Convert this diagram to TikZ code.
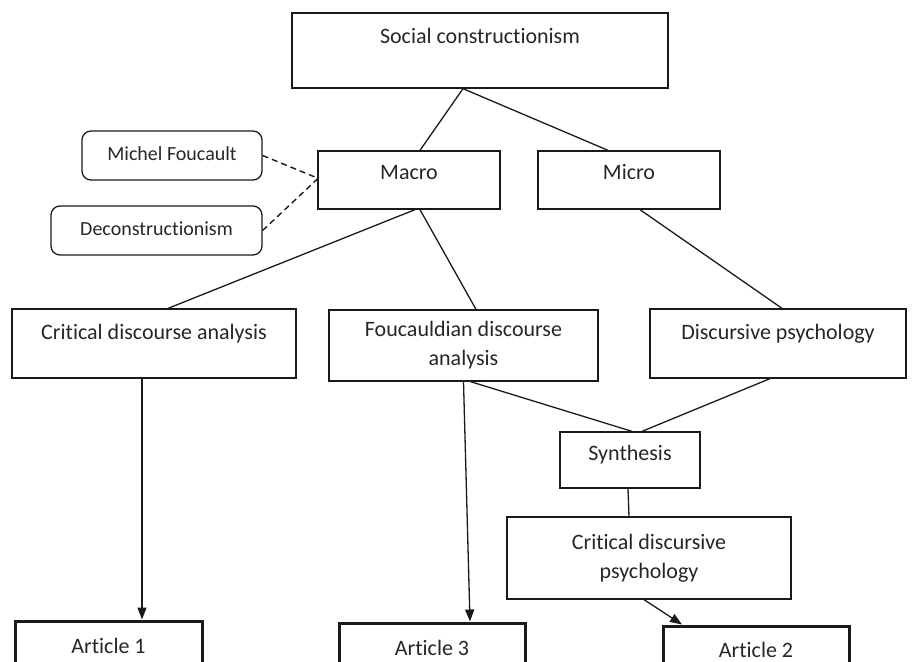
\documentclass[tikz,border=0pt]{standalone}
\usepackage{fontspec}
\setmainfont{Carlito}[Ligatures={NoCommon,NoContextual,NoRequired}]
\usetikzlibrary{arrows.meta}
\definecolor{txt}{HTML}{262626}
\definecolor{ln}{HTML}{1A1A1A}
\tikzset{
  box/.style={draw=ln, line width=1.3pt, rectangle, inner sep=0pt, align=center,
    text=txt, font=\fontsize{22}{29}\selectfont, text height=15pt},
  rbox/.style={box, rounded corners=9pt, font=\fontsize{20}{26}\selectfont},
  artbox/.style={box, line width=3pt},
  conn/.style={draw=ln, line width=1.3pt},
  dconn/.style={draw=ln, line width=1.4pt, dash pattern=on 6pt off 4pt},
  arr/.style={conn, -{Triangle[length=12pt,width=9pt]}},
  up/.style={text depth=#1}
}
\begin{document}
\begin{tikzpicture}[x=1pt,y=-1pt]
\useasboundingbox (0,0) rectangle (922,662);
\clip (0,0) rectangle (922,662);
% nodes
\node[box, up=30pt, minimum width=376pt, minimum height=75pt] (sc) at (480,50.5) {Social construc\kern0pt tionism};
\node[box, up=17pt, minimum width=182pt, minimum height=58pt] (macro) at (409,180) {Macro};
\node[box, up=17pt, minimum width=182pt, minimum height=58pt] (micro) at (629,180) {Micro};
\node[rbox, up=5pt, minimum width=180pt, minimum height=49pt] (mf) at (172,155.5) {Michel Foucault};
\node[rbox, up=5pt, minimum width=211pt, minimum height=49pt] (dec) at (156.5,230.5) {Deconstruc\kern0pt tionism};
\node[box, up=24pt, minimum width=284pt, minimum height=69pt] (cda) at (154,343.5) {Critical discourse analysis};
\node[box, text height=, minimum width=269pt, minimum height=71pt] (fda) at (463.5,345.5) {Foucauldian discourse\\analysis};
\node[box, up=24pt, minimum width=256pt, minimum height=69pt] (dp) at (778,343.5) {Discursive psychology};
\node[box, up=15pt, minimum width=140pt, minimum height=56pt] (syn) at (630,460) {Synthesis};
\node[box, text height=, minimum width=284pt, minimum height=82pt] (cdp) at (649,558) {Critical discursive\\psychology};
\node[artbox, up=1pt, minimum width=187pt, minimum height=50pt] (a1) at (108.5,646) {Article 1};
\node[artbox, up=1pt, minimum width=186pt, minimum height=50pt] (a3) at (432,648) {Article 3};
\node[artbox, up=3pt, minimum width=186pt, minimum height=50pt] (a2) at (756,651) {Article 2};
% connectors
\draw[conn] ([xshift=-17pt]sc.south) -- ([xshift=11pt]macro.north);
\draw[conn] ([xshift=-17pt]sc.south) -- ([xshift=-21pt]micro.north);
\draw[dconn] (mf.east) -- ([yshift=2pt]macro.west);
\draw[dconn] (dec.east) -- ([yshift=1pt]macro.west);
\draw[conn] ([xshift=6pt]macro.south) -- ([xshift=14pt]cda.north);
\draw[conn] ([xshift=11pt]macro.south) -- ([xshift=12.5pt]fda.north);
\draw[conn] ([xshift=11pt]micro.south) -- ([xshift=4pt]dp.north);
\draw[conn] ([xshift=7pt]fda.south) -- ([xshift=2pt]syn.north);
\draw[conn] ([xshift=-8pt]dp.south) -- ([xshift=12pt]syn.north);
\draw[conn] ([xshift=-2pt]syn.south) -- ([xshift=-20pt]cdp.north);
\draw[arr] ([xshift=-12pt]cda.south) -- ([xshift=33.5pt]a1.north);
\draw[arr] (fda.south) -- ([xshift=38pt]a3.north);
\draw[arr] ([xshift=-5pt]cdp.south) -- ([xshift=-74pt]a2.north);
\end{tikzpicture}
\end{document}
